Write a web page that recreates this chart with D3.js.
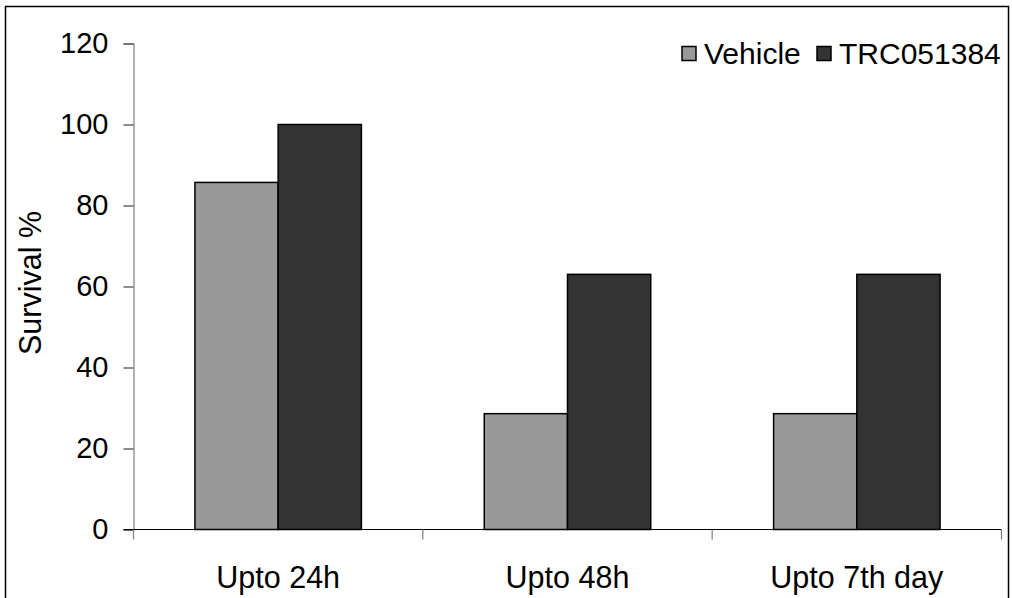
<!DOCTYPE html>
<html>
<head>
<meta charset="utf-8">
<script src="https://cdn.jsdelivr.net/npm/d3@7/dist/d3.min.js"></script>
<style>
  html, body { margin: 0; padding: 0; background: #fff; }
  svg { display: block; }
  text { font-family: "Liberation Sans", Arial, sans-serif; fill: #000; }
</style>
</head>
<body>
<svg id="chart" width="1012" height="598"></svg>
<script>
const categories = ["Upto 24h", "Upto 48h", "Upto 7th day"];
const seriesNames = ["Vehicle", "TRC051384"];
const vehicleValues = [85.7, 28.6, 28.6];
const trcValues = [100, 63, 63];
const yTicks = [0, 20, 40, 60, 80, 100, 120];
const seriesColors = ["#999999", "#333333"];

const seriesValues = [vehicleValues, trcValues];
const svg = d3.select("#chart");
const mLeft = 133.5, mRight = 1001.5, mTop = 43.5, mBottom = 529.5;
const fontSize = 29, bigFont = 30.5;

// outer frame
svg.append("rect").attr("x", 5.5).attr("y", 6.5).attr("width", 1003).attr("height", 595)
  .attr("fill", "none").attr("stroke", "#000").attr("stroke-width", 1.5);

const x0 = d3.scaleBand().domain(categories).range([mLeft, mRight]).paddingInner(0).paddingOuter(0);
const x1 = d3.scaleBand().domain(seriesNames).range([0, x0.bandwidth()]).paddingInner(0).paddingOuter(0.738);
const y = d3.scaleLinear().domain([0, 120]).range([mBottom, mTop]);

// bars
const groups = svg.append("g").selectAll("g").data(categories).join("g")
  .attr("transform", d => `translate(${x0(d)},0)`);
groups.selectAll("rect")
  .data((c, i) => seriesNames.map((s, j) => ({ s, j, v: seriesValues[j][i] })))
  .join("rect")
  .attr("x", d => x1(d.s))
  .attr("y", d => y(d.v))
  .attr("width", x1.bandwidth())
  .attr("height", d => y(0) - y(d.v))
  .attr("fill", d => seriesColors[d.j])
  .attr("stroke", "#000")
  .attr("stroke-width", 1.5);

// y axis
const yAxis = d3.axisLeft(y).tickValues(yTicks).tickSize(10).tickPadding(15).tickFormat(d3.format("d"));
const gy = svg.append("g").attr("transform", `translate(${mLeft},0)`).call(yAxis);
gy.select(".domain").attr("stroke", "#808080").attr("stroke-width", 1.2);
gy.selectAll(".tick line").attr("stroke", "#404040").attr("stroke-width", 1.2);
gy.selectAll(".tick text").attr("font-size", fontSize).attr("font-family", "Liberation Sans, Arial, sans-serif").attr("fill", "#000");

// x axis
const xTickScale = d3.scaleLinear().domain([0, categories.length]).range([mLeft, mRight]);
const gx = svg.append("g").attr("transform", `translate(0,${mBottom})`);
gx.append("line").attr("x1", mLeft - 10).attr("x2", mRight).attr("y1", 0).attr("y2", 0)
  .attr("stroke", "#000").attr("stroke-width", 1.2);
gx.selectAll("line.tk").data(d3.range(categories.length + 1)).join("line").attr("class", "tk")
  .attr("x1", d => xTickScale(d)).attr("x2", d => xTickScale(d))
  .attr("y1", 0).attr("y2", 10).attr("stroke", "#808080").attr("stroke-width", 1.2);
gx.selectAll("text").data(categories).join("text")
  .attr("x", d => x0(d) + x0.bandwidth() / 2)
  .attr("y", 58.5)
  .attr("text-anchor", "middle")
  .attr("font-size", bigFont)
  .text(d => d);

// y label
svg.append("text")
  .attr("transform", `translate(41,283) rotate(-90)`)
  .attr("text-anchor", "middle")
  .attr("font-size", bigFont)
  .text("Survival %");

// legend
const legendItems = [
  { name: seriesNames[0], color: seriesColors[0], sx: 682, tx: 704 },
  { name: seriesNames[1], color: seriesColors[1], sx: 817, tx: 839 }
];
const lg = svg.append("g");
lg.selectAll("rect").data(legendItems).join("rect")
  .attr("x", d => d.sx).attr("y", 46.5).attr("width", 14).attr("height", 14)
  .attr("fill", d => d.color).attr("stroke", "#000").attr("stroke-width", 1.5);
lg.selectAll("text").data(legendItems).join("text")
  .attr("x", d => d.tx).attr("y", 64)
  .attr("font-size", 30)
  .text(d => d.name);
</script>
</body>
</html>
